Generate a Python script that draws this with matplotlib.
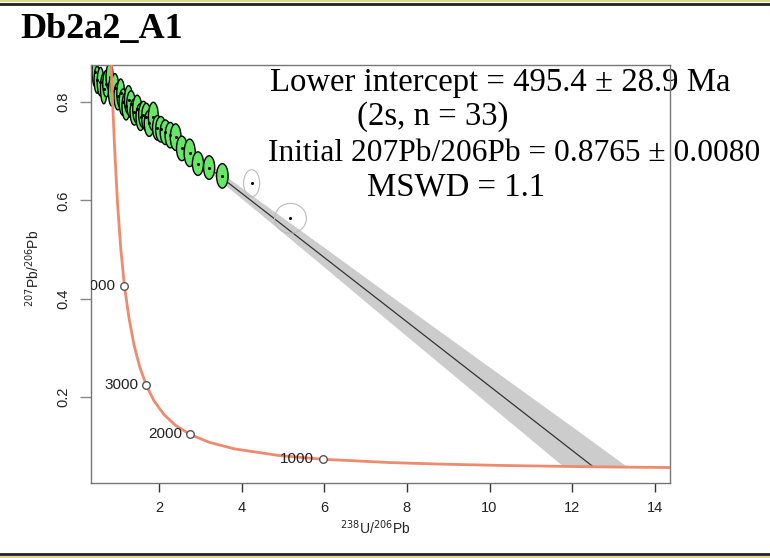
import numpy as np
import matplotlib
matplotlib.use("Agg")
import matplotlib.pyplot as plt
from matplotlib.patches import Ellipse
from matplotlib.lines import Line2D

# -----------------------------------
# Data
# -----------------------------------
# Tera-Wasserburg concordia (238U/206Pb, 207Pb/206Pb)
conc_x = [15.62, 13.83, 12.40, 10.25, 8.72, 7.57, 5.96, 4.89, 3.82, 3.21, 2.75, 2.39,
          2.11, 1.88, 1.69, 1.53, 1.39, 1.27, 1.16, 1.07, 0.99, 0.92, 0.85, 0.83]
conc_y = [0.0547, 0.0560, 0.0572, 0.0599, 0.0628, 0.0658, 0.0725, 0.0802, 0.0937, 0.1071,
          0.1230, 0.1419, 0.1643, 0.1910, 0.2228, 0.2607, 0.3060, 0.3603, 0.4251, 0.5031,
          0.5970, 0.7097, 0.8456, 0.9072]

# age markers on the concordia
ages = ["1000", "2000", "3000", "4000"]
age_x = [5.96, 2.75, 1.69, 1.16]
age_y = [0.0725, 0.123, 0.223, 0.425]

# discordia line and its error envelope
reg_x = [0.0, 12.51]
reg_y = [0.8765, 0.0572]
env_x = [0.3, 1.5, 3.0, 4.5, 6.0, 7.5, 9.0, 10.5, 12.0, 13.5, 14.5]
env_hi = [0.862, 0.782, 0.687, 0.595, 0.504, 0.412, 0.321, 0.230, 0.139, 0.047, -0.013]
env_lo = [0.852, 0.774, 0.673, 0.569, 0.464, 0.358, 0.253, 0.148, 0.043, -0.063, -0.133]

# analyses used in the fit (green ellipses)
gx = [0.45, 0.50, 0.58, 0.66, 0.72, 0.80, 0.86, 0.93, 1.00, 1.07, 1.13, 1.20, 1.26, 1.32,
      1.40, 1.47, 1.55, 1.62, 1.69, 1.76, 1.86, 1.96, 2.04, 2.15, 2.27, 2.40, 2.55, 2.74,
      2.94, 3.21, 3.53]
gy = [0.862, 0.846, 0.842, 0.828, 0.838, 0.852, 0.822, 0.830, 0.812, 0.818, 0.800, 0.792,
      0.805, 0.796, 0.780, 0.786, 0.770, 0.775, 0.770, 0.757, 0.771, 0.748, 0.745, 0.739,
      0.733, 0.729, 0.706, 0.697, 0.675, 0.667, 0.650]
gw = [0.15, 0.15, 0.16, 0.16, 0.17, 0.17, 0.18, 0.18, 0.19, 0.19, 0.20, 0.20, 0.20, 0.21,
      0.21, 0.22, 0.22, 0.23, 0.23, 0.24, 0.24, 0.24, 0.25, 0.25, 0.25, 0.26, 0.26, 0.27,
      0.27, 0.27, 0.28]
gh = [0.060, 0.055, 0.058, 0.062, 0.054, 0.056, 0.060, 0.057, 0.055, 0.059, 0.054, 0.056,
      0.058, 0.055, 0.053, 0.057, 0.055, 0.054, 0.056, 0.053, 0.058, 0.050, 0.052, 0.050,
      0.052, 0.054, 0.050, 0.056, 0.048, 0.048, 0.050]

# rejected analyses (open ellipses)
ox = [4.24, 5.18]
oy = [0.635, 0.5635]
ow = [0.39, 0.77]
oh = [0.055, 0.061]

title = "Db2a2_A1"
stats_lines = ["Lower intercept = 495.4 \u00b1 28.9 Ma",
               "(2s, n = 33)",
               "Initial 207Pb/206Pb = 0.8765 \u00b1 0.0080",
               "MSWD = 1.1"]

# -----------------------------------
# Figure
# -----------------------------------
W, H = 770, 558
fig = plt.figure(figsize=(W / 100, H / 100), dpi=100)
ax = fig.add_axes([91 / W, 1 - 482.7 / H, 579 / W, 417.7 / H])

sans = "Liberation Sans"
serif = "Liberation Serif"

# error envelope, masked below the concordia
ax.fill_between(env_x, env_lo, env_hi, color="#cccccc", lw=0, zorder=1)
ax.fill_between(conc_x, -1, conc_y, color="white", lw=0, zorder=1.2)
ax.plot(reg_x, reg_y, color="#333333", lw=0.9, zorder=1.4)

# concordia
ax.plot(conc_x, conc_y, color="#ee8a6e", lw=2, zorder=3, solid_capstyle="butt")
ax.scatter(age_x, age_y, s=30, facecolor="white", edgecolor="#555555", lw=1, zorder=4)
for a, x, y in zip(ages, age_x, age_y):
    ax.annotate(a, (x, y), xytext=(-6, 0), textcoords="offset points",
                ha="right", va="center", fontsize=11, family=sans,
                color="#222222", annotation_clip=False, clip_on=True, zorder=4)

# ellipses
for x, y, w, h in zip(gx, gy, gw, gh):
    ax.add_patch(Ellipse((x, y), w, h, facecolor="#66e866", edgecolor="black",
                         lw=1, zorder=2))
ax.scatter(gx, gy, s=1.5, color="black", zorder=2.1)
for x, y, w, h in zip(ox, oy, ow, oh):
    ax.add_patch(Ellipse((x, y), w, h, facecolor="none", edgecolor="#bbbbbb",
                         lw=0.8, zorder=2))
ax.scatter(ox, oy, s=1.5, color="black", zorder=2.1)

# axes
ax.set_xlim(0.35, 14.37)
ax.set_ylim(0.0247, 0.876)
ax.set_xticks([2, 4, 6, 8, 10, 12, 14])
ax.set_yticks([0.2, 0.4, 0.6, 0.8])
ax.set_yticklabels(["0.2", "0.4", "0.6", "0.8"])
for s in ax.spines.values():
    s.set_color("#777777")
    s.set_linewidth(1)
ax.tick_params(axis="x", length=6.5, width=1, color="#333333", pad=7,
               labelsize=10.5, labelcolor="#222222")
ax.tick_params(axis="y", length=8, width=1, color="#888888", pad=7,
               labelsize=10.5, labelcolor="#222222", labelrotation=90)
for lab in ax.get_xticklabels() + ax.get_yticklabels():
    lab.set_family(sans)
for lab in ax.get_yticklabels():
    lab.set_va("center")

fig.text(375 / W, 1 - 528 / H, r"$^{238}$U/$^{206}$Pb", ha="center", va="center",
         fontsize=10, family=sans, color="#222222")
fig.text(33 / W, 1 - 268 / H, r"$^{207}$Pb/$^{206}$Pb", ha="center", va="center",
         rotation=90, fontsize=10, family=sans, color="#222222")

# title and statistics
fig.text(20 / W, 1 - 38 / H, title, ha="left", va="baseline", fontsize=26,
         fontweight="bold", family=serif)
stat_x = [270, 357, 268, 367]
stat_base = [91, 124.5, 161, 196]
stat_size = [23.6, 23.6, 22.6, 23.6]
for t, x, y, fs in zip(stats_lines, stat_x, stat_base, stat_size):
    ax.text(x / W, 1 - y / H, t, transform=fig.transFigure, ha="left",
            va="baseline", fontsize=fs, family=serif, zorder=2.4, clip_on=False)

# slide borders
for yp, c, lw in [(1.0, "#ddd58a", 2), (1 - 3.5 / H, "#222222", 2),
                  (1 - 554 / H, "#222222", 2), (1 - 557 / H, "#ddd58a", 2)]:
    fig.add_artist(Line2D([0, 1], [yp, yp], color=c, lw=lw, transform=fig.transFigure))

fig.savefig("out.png", dpi=100)
